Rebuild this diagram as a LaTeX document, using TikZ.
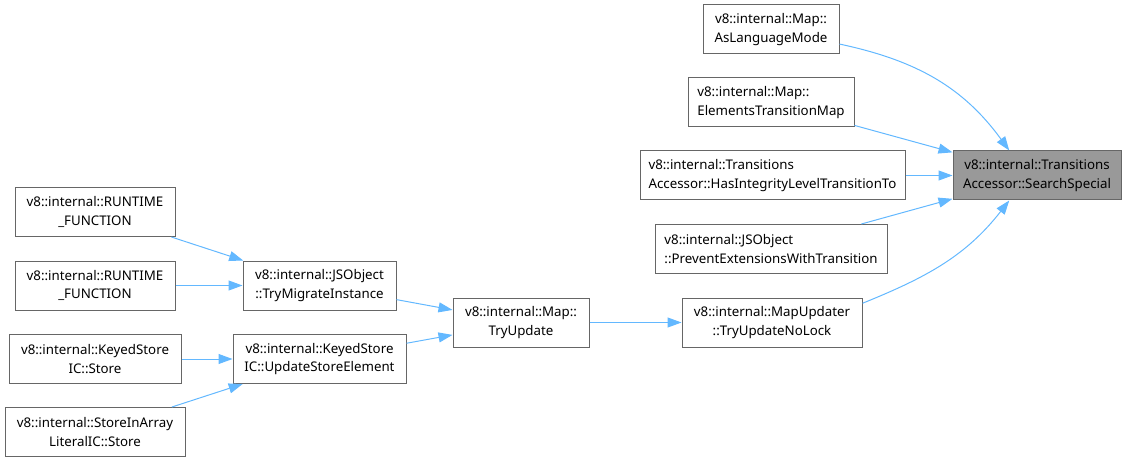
\documentclass[tikz,border=0pt]{standalone}
\usepackage{fontspec}
\setmainfont{Noto Sans}
\usepackage{tikz}
\usetikzlibrary{arrows.meta}
\usepackage{xcolor}
\definecolor{edgeblue}{RGB}{99,184,255}
\definecolor{boxgray}{RGB}{102,102,102}
\definecolor{hlgray}{RGB}{153,153,153}

\begin{document}
\begin{tikzpicture}[x=1pt, y=-1pt,
  every node/.style={font=\fontsize{13.3}{18.5}\selectfont},
  fn/.style={draw=boxgray, line width=1pt, fill=white, minimum height=49pt, inner sep=2pt, align=center},
  edge/.style={edgeblue, line width=1pt, -{Triangle[length=14pt,width=10pt]}}]
  \useasboundingbox (0,0) rectangle (1126,462);
  % callee
  \node[fn, fill=hlgray, minimum width=168pt] (search) at (1037,175.5) {v8::internal::Transitions\\Accessor::SearchSpecial};
  % direct callers
  \node[fn, minimum width=136pt] (aslang) at (771,29.5) {v8::internal::Map::\\AsLanguageMode};
  \node[fn, minimum width=166pt, align=left] (elemmap) at (771,102.5) {v8::internal::Map::\\ElementsTransitionMap};
  \node[fn, minimum width=265pt, align=left] (hasint) at (772.5,175.5) {v8::internal::Transitions\\Accessor::HasIntegrityLevelTransitionTo};
  \node[fn, minimum width=232pt, align=left] (prevext) at (771,249) {v8::internal::JSObject\\::PreventExtensionsWithTransition};
  \node[fn, minimum width=180pt] (nolock) at (772,322.5) {v8::internal::MapUpdater\\::TryUpdateNoLock};
  % second level
  \node[fn, minimum width=136pt] (tryupd) at (521,322.5) {v8::internal::Map::\\TryUpdate};
  \node[fn, minimum width=153pt] (trymig) at (319.5,285.5) {v8::internal::JSObject\\::TryMigrateInstance};
  \node[fn, minimum width=173pt] (updstore) at (319.5,359) {v8::internal::KeyedStore\\IC::UpdateStoreElement};
  % left column
  \node[fn, minimum width=160pt] (rtfunA) at (95,212) {v8::internal::RUNTIME\\\_FUNCTION};
  \node[fn, minimum width=160pt] (rtfunB) at (95,285.5) {v8::internal::RUNTIME\\\_FUNCTION};
  \node[fn, minimum width=172pt] (keyed) at (95,359) {v8::internal::KeyedStore\\IC::Store};
  \node[fn, minimum width=180pt] (arrlit) at (95,432) {v8::internal::StoreInArray\\LiteralIC::Store};

  \draw[edge] (aslang.-12) to[out=-12, in=126] (search.138);
  \draw[edge] (elemmap) -- (search);
  \draw[edge] (hasint) -- (search);
  \draw[edge] (prevext) -- (search);
  \draw[edge] (nolock.12) to[out=22, in=-128] (search.-138);
  \draw[edge] (tryupd) -- (nolock);
  \draw[edge] (trymig) -- (tryupd);
  \draw[edge] (updstore) -- (tryupd);
  \draw[edge] (rtfunA) -- (trymig);
  \draw[edge] (rtfunB) -- (trymig);
  \draw[edge] (keyed) -- (updstore);
  \draw[edge] (arrlit) -- (updstore);
\end{tikzpicture}
\end{document}
